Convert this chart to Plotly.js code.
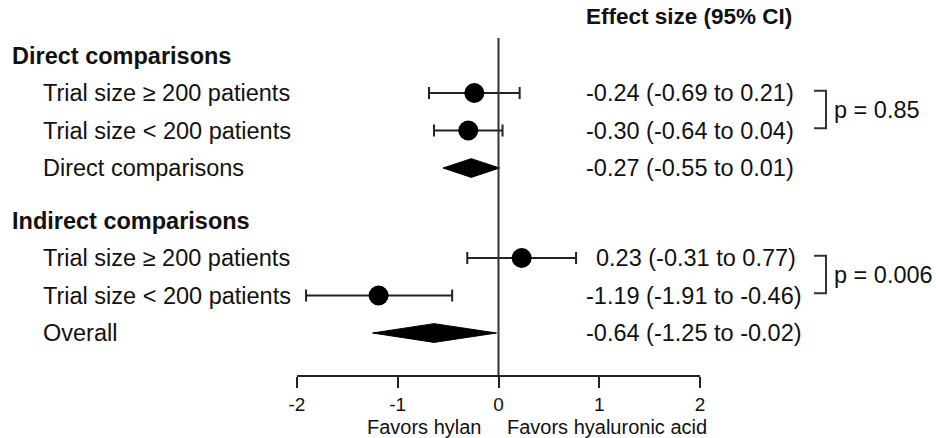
<!DOCTYPE html>
<html>
<head>
<meta charset="utf-8">
<script src="https://cdn.plot.ly/plotly-3.0.1.min.js"></script>
<style>html,body{margin:0;padding:0;background:#fff;}#chart{width:936px;height:438px;}</style>
</head>
<body>
<div id="chart"></div>
<script>
// ---- data ----
const groupTitles = ["Direct comparisons", "Indirect comparisons"];
const rowLabels = [
  ["Trial size \u2265 200 patients", "Trial size < 200 patients", "Direct comparisons"],
  ["Trial size \u2265 200 patients", "Trial size < 200 patients", "Overall"]
];
const estimates = [[-0.24, -0.30, -0.27], [0.23, -1.19, -0.64]];
const lowerCI   = [[-0.69, -0.64, -0.55], [-0.31, -1.91, -1.25]];
const upperCI   = [[0.21, 0.04, 0.01], [0.77, -0.46, -0.02]];
const pooledRow = [[false, false, true], [false, false, true]];
const pValues = ["p = 0.85", "p = 0.006"];
const tickValues = [-2, -1, 0, 1, 2];
const tickLabels = ["-2", "-1", "0", "1", "2"];
const headerText = "Effect size (95% CI)";
const leftNote = "Favors hylan";
const rightNote = "Favors hyaluronic acid";

// ---- layout helpers ----
const W = 936, H = 438;
const px = v => v / W;          // pixel -> paper x
const py = v => 1 - v / H;      // pixel -> paper y
const FONT = "Liberation Sans, Arial, sans-serif";
const FS = 23.5;
const groupGap = 4.4;           // row units between group headers

const traces = [];
const annotations = [];
const shapes = [];

const ptX = [], ptY = [], ptPlus = [], ptMinus = [];

groupTitles.forEach((g, gi) => {
  const gy = gi * groupGap;
  annotations.push({xref: "paper", yref: "y", x: px(10), y: gy, text: "<b>" + g + "</b>",
    showarrow: false, xanchor: "left", yanchor: "middle", font: {family: FONT, size: FS, color: "#111"}});
  rowLabels[gi].forEach((lab, ri) => {
    const y = gy + ri + 1;
    const e = estimates[gi][ri], lo = lowerCI[gi][ri], hi = upperCI[gi][ri];
    annotations.push({xref: "paper", yref: "y", x: px(41), y: y, text: lab,
      showarrow: false, xanchor: "left", yanchor: "middle", font: {family: FONT, size: FS, color: "#111"}});
    annotations.push({xref: "paper", yref: "y", x: px(584), y: y,
      xshift: e >= 0 ? 10 : 0,
      text: e.toFixed(2) + " (" + lo.toFixed(2) + " to " + hi.toFixed(2) + ")",
      showarrow: false, xanchor: "left", yanchor: "middle", font: {family: FONT, size: FS, color: "#111"}});
    if (pooledRow[gi][ri]) {
      const h = 0.25;
      traces.push({type: "scatter", mode: "lines", x: [lo, e, hi, e, lo], y: [y, y - h, y, y + h, y],
        fill: "toself", fillcolor: "#000", line: {color: "#000", width: 1}, hoverinfo: "skip", showlegend: false});
    } else {
      ptX.push(e); ptY.push(y); ptPlus.push(hi - e); ptMinus.push(e - lo);
    }
  });
  // bracket + p-value for first two rows of the group
  const y1 = gy + 1, y2 = gy + 2;
  shapes.push({type: "path", xref: "paper", yref: "y",
    path: `M ${px(814)} ${y1 - 0.06} L ${px(826)} ${y1 - 0.06} L ${px(826)} ${y2 - 0.06} L ${px(814)} ${y2 - 0.06}`,
    line: {color: "#333", width: 2}});
  annotations.push({xref: "paper", yref: "y", x: px(832), y: (y1 + y2) / 2 - 0.06, text: pValues[gi],
    showarrow: false, xanchor: "left", yanchor: "middle", font: {family: FONT, size: FS, color: "#111"}});
});

traces.push({type: "scatter", mode: "markers", x: ptX, y: ptY,
  marker: {color: "#000", size: 20},
  error_x: {type: "data", symmetric: false, array: ptPlus, arrayminus: ptMinus, color: "#222", thickness: 2, width: 6},
  hoverinfo: "skip", showlegend: false});

const yDomain = [py(375), py(38)];

shapes.push({type: "line", xref: "x", yref: "paper", x0: 0, x1: 0, y0: yDomain[0], y1: yDomain[1],
  line: {color: "#333", width: 2}});

annotations.push({xref: "paper", yref: "paper", x: px(689), y: py(17), text: "<b>" + headerText + "</b>",
  showarrow: false, xanchor: "center", yanchor: "middle", font: {family: FONT, size: 22.5, color: "#111"}});
annotations.push({xref: "paper", yref: "paper", x: px(484), y: py(427), text: leftNote,
  showarrow: false, xanchor: "right", yanchor: "middle", font: {family: FONT, size: 20, color: "#111"}});
annotations.push({xref: "paper", yref: "paper", x: px(505), y: py(427), text: rightNote,
  showarrow: false, xanchor: "left", yanchor: "middle", font: {family: FONT, size: 20, color: "#111"}});

const layout = {
  width: W, height: H,
  margin: {l: 0, r: 0, t: 0, b: 0, pad: 0},
  paper_bgcolor: "#fff", plot_bgcolor: "#fff",
  showlegend: false,
  xaxis: {domain: [px(297), px(700)], range: [-2, 2], showgrid: false, zeroline: false,
    showline: true, linecolor: "#222", linewidth: 2, ticks: "outside", ticklen: 11, tickwidth: 2, tickcolor: "#222",
    tickvals: tickValues, ticktext: tickLabels, tickfont: {family: FONT, size: 19, color: "#111"}, fixedrange: true},
  yaxis: {domain: yDomain, range: [8.52, -0.467], showgrid: false, zeroline: false, showline: false,
    showticklabels: false, ticks: "", fixedrange: true},
  shapes: shapes,
  annotations: annotations
};

Plotly.newPlot("chart", traces, layout, {displayModeBar: false, staticPlot: true});
</script>
</body>
</html>
